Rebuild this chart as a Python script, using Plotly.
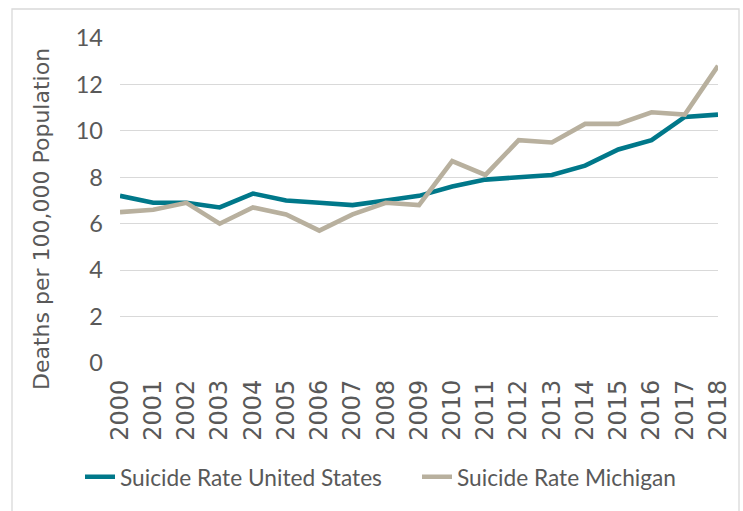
import plotly.graph_objects as go

# Suicide rates, deaths per 100,000 population
years = [str(y) for y in range(2000, 2019)]
us_rate = [7.2, 6.9, 6.9, 6.7, 7.3, 7.0, 6.9, 6.8, 7.0, 7.2,
           7.6, 7.9, 8.0, 8.1, 8.5, 9.2, 9.6, 10.6, 10.7]
mi_rate = [6.5, 6.6, 6.9, 6.0, 6.7, 6.4, 5.7, 6.4, 6.9, 6.8,
           8.7, 8.1, 9.6, 9.5, 10.3, 10.3, 10.8, 10.7, 12.8]
y_ticks = [0, 2, 4, 6, 8, 10, 12, 14]
y_title = "Deaths per 100,000 Population"

TEAL = "#00788A"
TAN = "#B8B09E"
GRID = "#D9D9D9"
TEXT = "#595959"

W, H = 743, 511
L, R, T, B = 120, 25, 38, 148
pw, ph = W - L - R, H - T - B

fig = go.Figure()
fig.add_trace(go.Scatter(x=years, y=us_rate, mode="lines",
                         name="Suicide Rate United States",
                         legendwidth=292,
                         line=dict(color=TEAL, width=4.6)))
fig.add_trace(go.Scatter(x=years, y=mi_rate, mode="lines",
                         name="Suicide Rate Michigan",
                         legendwidth=220,
                         line=dict(color=TAN, width=4.6)))


def px_x(x):
    return (x - L) / pw


def px_y(y):
    return (H - B - y) / ph


# outer chart border
fig.add_shape(type="rect", xref="paper", yref="paper",
              x0=px_x(12), x1=px_x(739), y0=px_y(520), y1=px_y(9),
              line=dict(color=GRID, width=1.3), fillcolor="rgba(0,0,0,0)")

# vertical axis title
fig.add_annotation(text=y_title, textangle=-90, showarrow=False,
                   xref="paper", yref="paper",
                   x=px_x(42), y=px_y(219), xanchor="center", yanchor="middle",
                   font=dict(family="DejaVu Sans", size=22, color=TEXT))

fig.update_layout(
    width=W, height=H,
    margin=dict(l=L, r=R, t=T, b=B),
    paper_bgcolor="white", plot_bgcolor="white",
    showlegend=True,
    legend=dict(orientation="h", x=px_x(80), xanchor="left",
                y=px_y(477), yanchor="middle",
                font=dict(family="Lato", size=22.7, color=TEXT)),
    xaxis=dict(type="category", tickangle=-90, showgrid=False,
               showline=False, zeroline=False, ticks="",
               ticklabelstandoff=11,
               tickfont=dict(family="DejaVu Sans", size=24, color=TEXT)),
    yaxis=dict(range=[0, 14], tickvals=y_ticks, showgrid=True,
               gridcolor=GRID, gridwidth=1.3, zeroline=False,
               showline=False, ticks="", ticklabelstandoff=16,
               tickfont=dict(family="Lato", size=23.5, color=TEXT)),
)

fig.write_html("out.html")
